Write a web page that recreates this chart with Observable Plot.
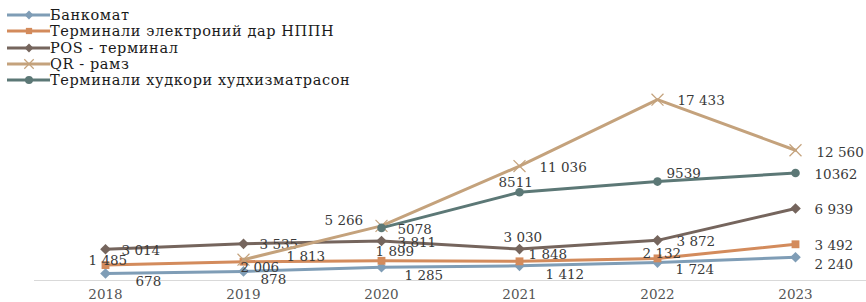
<!DOCTYPE html>
<html><head><meta charset="utf-8">
<script src="https://cdn.jsdelivr.net/npm/d3@7"></script>
<script src="https://cdn.jsdelivr.net/npm/@observablehq/plot@0.6"></script>
<style>
body{margin:0;background:#fff;}
#wrap{position:relative;width:866px;height:302px;font-family:"DejaVu Serif",serif;}
#wrap svg.plot{position:absolute;left:0;top:0;}
#legend{position:absolute;left:0;top:7px;z-index:2;}
.item{display:flex;align-items:center;height:16.3px;font-size:14.5px;letter-spacing:0.6px;color:#1a1a1a;white-space:nowrap;}
.item svg{display:block;flex:none;}
</style></head><body><div id="wrap"><div id="legend"></div></div>
<script>
// ---- data ----
const years = [2018, 2019, 2020, 2021, 2022, 2023];
const seriesNames = ["Банкомат", "Терминали электроний дар НППН", "POS - терминал", "QR - рамз", "Терминали худкори худхизматрасон"];
const atm = [678, 878, 1285, 1412, 1724, 2240];
const nppn = [1485, 1813, 1899, 1848, 2132, 3492];
const pos = [3014, 3535, 3811, 3030, 3872, 6939];
const qr = [null, 2006, 5266, 11036, 17433, 12560];
const selfService = [null, null, 5078, 8511, 9539, 10362];

// ---- styles / layout ----
const colors = ["#7f9db6", "#d38b5c", "#75655d", "#c4a27c", "#5c7876"];
const symbols = ["diamond2", "square2", "diamond2", "times", "circle"];
const spacedFormat = [true, true, true, true, false];
const labelDx = [
  [30, 17, 23, 26, 18, 19],
  [-17, 43, -6, 9, -15, 19],
  [16, 16, 16, -16, 19, 19],
  [0, -3, -57, 20, 20, 21],
  [0, 0, 16, -21, 9, 19]
];
const labelDy = [
  [8, 8, 8, 9, 7, 7],
  [-4, -5, -9, -7, -5, 1],
  [1, 1, 2, -11, 1, 1],
  [0, 8, -5, 2, 1, 2],
  [0, 0, 2, -10, -8, 2]
];

const values = [atm, nppn, pos, qr, selfService];
const fmtSpaced = v => String(v).replace(/\B(?=(\d{3})+(?!\d))/g, " ");

const marks = [Plot.ruleY([0], {stroke: "#d9d9d9", strokeWidth: 1})];
values.forEach((vals, i) => {
  const rows = years.map((year, j) => ({year, value: vals[j], j})).filter(d => d.value != null);
  marks.push(Plot.line(rows, {x: "year", y: "value", stroke: colors[i], strokeWidth: 3}));
  if (symbols[i] === "times") {
    marks.push(Plot.dot(rows, {x: "year", y: "value", symbol: "times", r: 5.5, stroke: colors[i], strokeWidth: 1.2, fill: "none"}));
  } else {
    const r = symbols[i] === "square2" ? 5 : symbols[i] === "circle" ? 4.3 : 4.8;
    marks.push(Plot.dot(rows, {x: "year", y: "value", symbol: symbols[i], r, fill: colors[i], stroke: "none"}));
  }
  rows.forEach(d => {
    marks.push(Plot.text([d], {
      x: "year", y: "value",
      text: r => spacedFormat[i] ? fmtSpaced(r.value) : String(r.value),
      dx: labelDx[i][d.j], dy: labelDy[i][d.j],
      textAnchor: "start", fill: "#3a3a3a", fontSize: 13.5
    }));
  });
});
marks.push(Plot.axisX({tickSize: 0, tickPadding: 9, fontSize: 13.5, fill: "#555", tickFormat: d => String(d), label: null}));

const chart = Plot.plot({
  width: 866, height: 302,
  marginTop: 0, marginBottom: 22, marginLeft: 34, marginRight: 0,
  style: {fontFamily: "DejaVu Serif", fontSize: "13px", background: "transparent"},
  x: {type: "point", domain: years, padding: 0.5, label: null},
  y: {domain: [0, 27000], axis: null},
  marks
});
chart.classList.add("plot");
document.getElementById("wrap").appendChild(chart);

// ---- legend ----
const legend = document.getElementById("legend");
const symMap = {diamond2: d3.symbolDiamond2, square2: d3.symbolSquare2, times: d3.symbolTimes, circle: d3.symbolCircle};
seriesNames.forEach((name, i) => {
  const item = document.createElement("div");
  item.className = "item";
  const sw = d3.create("svg").attr("width", 50).attr("height", 14);
  sw.append("line").attr("x1", 7).attr("x2", 50).attr("y1", 7).attr("y2", 7).attr("stroke", colors[i]).attr("stroke-width", 3);
  const isT = symbols[i] === "times";
  sw.append("path").attr("transform", "translate(29,7)")
    .attr("d", d3.symbol(symMap[symbols[i]], isT ? 60 : 50)())
    .attr("fill", isT ? "none" : colors[i]).attr("stroke", isT ? colors[i] : "none").attr("stroke-width", 1.2);
  item.appendChild(sw.node());
  const t = document.createElement("span");
  t.textContent = name;
  item.appendChild(t);
  legend.appendChild(item);
});
</script></body></html>
